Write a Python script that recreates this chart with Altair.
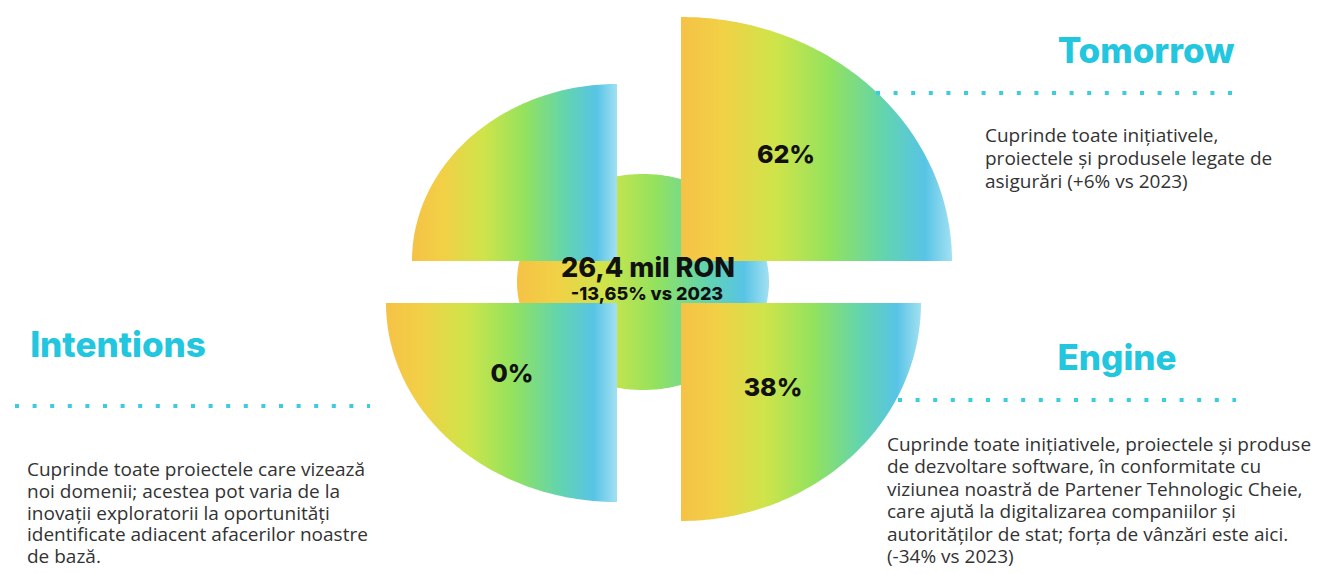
import altair as alt
import pandas as pd

# ---------------- data ----------------
segments = ["Tomorrow", "Engine", "Intentions", "Other"]
share_labels = ["62%", "38%", "0%", ""]
total_value = "26,4 mil RON"
total_change = "-13,65% vs 2023"
heading_names = ["Tomorrow", "Intentions", "Engine"]
desc_tomorrow = ["Cuprinde toate inițiativele,",
                 "proiectele și produsele legate de",
                 "asigurări (+6% vs 2023)"]
desc_intentions = ["Cuprinde toate proiectele care vizează",
                   "noi domenii; acestea pot varia de la",
                   "inovații exploratorii la oportunități",
                   "identificate adiacent afacerilor noastre",
                   "de bază."]
desc_engine = ["Cuprinde toate inițiativele, proiectele și produse",
               "de dezvoltare software, în conformitate cu",
               "viziunea noastră de Partener Tehnologic Cheie,",
               "care ajută la digitalizarea companiilor și",
               "autorităților de stat; forța de vânzări este aici.",
               "(-34% vs 2023)"]

# ---------------- layout (screen pixels) ----------------
W, H = 1308, 558
corner_x = [681, 681, 617, 617]
corner_y = [261, 303, 303, 261]
radius_x = [271, 240, 231, 205]
radius_y = [244, 218, 199, 177]
dir_x = [1, 1, -1, -1]
dir_y = [-1, 1, 1, -1]
label_x = [786, 773, 512, 0]
label_y = [155, 388, 374, 0]
hub = dict(cx=643, cy=282, rx=126, ry=108)

xs = alt.Scale(domain=[8, 8 + W], nice=False, zero=False)
ys = alt.Scale(domain=[8, 8 + H], nice=False, zero=False, reverse=True)

grad = alt.Gradient(
    gradient="linear", x1=0, y1=0.5, x2=1, y2=0.5,
    stops=[
        alt.GradientStop(color="#F5C246", offset=0.0),
        alt.GradientStop(color="#F2D046", offset=0.15),
        alt.GradientStop(color="#CFE44A", offset=0.35),
        alt.GradientStop(color="#93E25E", offset=0.55),
        alt.GradientStop(color="#62D4AE", offset=0.75),
        alt.GradientStop(color="#58C4E6", offset=0.9),
        alt.GradientStop(color="#A2E0F2", offset=1.0),
    ],
)

CYAN = "#22C6DE"
TXT = "#333333"
HEAD_FONT = "Inter"
BODY_FONT = "Open Sans"

# ---------------- hub ellipse ----------------
hub_df = pd.DataFrame([hub])
hub_layer = (
    alt.Chart(hub_df)
    .transform_calculate(t="sequence(0, 181, 1)")
    .transform_flatten(["t"])
    .transform_calculate(
        a="datum.t * PI / 180",
        x="datum.cx + datum.rx * cos(datum.a)",
        y="datum.cy - datum.ry * sin(datum.a)",
        y2="datum.cy + datum.ry * sin(datum.a)",
    )
    .mark_area(color=grad)
    .encode(
        x=alt.X("x:Q", scale=xs, axis=None),
        y=alt.Y("y:Q", scale=ys, axis=None),
        y2="y2:Q",
    )
)

# ---------------- wedges ----------------
wedge_df = pd.DataFrame({
    "segment": segments, "cx": corner_x, "cy": corner_y,
    "rx": radius_x, "ry": radius_y, "sx": dir_x, "sy": dir_y,
})
wedges = (
    alt.Chart(wedge_df)
    .transform_calculate(t="sequence(0, 91, 1)")
    .transform_flatten(["t"])
    .transform_calculate(
        a="datum.t * PI / 180",
        x="datum.cx + datum.sx * datum.rx * cos(datum.a)",
        y="datum.cy + datum.sy * datum.ry * sin(datum.a)",
        y2="datum.cy",
    )
    .mark_area(color=grad)
    .encode(
        x=alt.X("x:Q", scale=xs, axis=None),
        y=alt.Y("y:Q", scale=ys, axis=None),
        y2="y2:Q",
        detail="segment:N",
    )
)

# ---------------- share labels ----------------
share_df = pd.DataFrame({"label": share_labels, "x": label_x, "y": label_y})
share_df = share_df[share_df["label"] != ""]
shares = (
    alt.Chart(share_df)
    .mark_text(font=HEAD_FONT, fontWeight=800, fontSize=25, color="#111111",
               align="center", baseline="middle")
    .encode(x=alt.X("x:Q", scale=xs, axis=None), y=alt.Y("y:Q", scale=ys, axis=None),
            text="label:N")
)

center_df = pd.DataFrame({"label": [total_value, total_change], "x": [648, 647],
                          "y": [269, 295], "size": [27, 18]})
center_text = (
    alt.Chart(center_df)
    .mark_text(font=HEAD_FONT, fontWeight=800, color="#111111",
               align="center", baseline="middle")
    .encode(x=alt.X("x:Q", scale=xs, axis=None), y=alt.Y("y:Q", scale=ys, axis=None),
            text="label:N", size=alt.Size("size:Q", scale=None, legend=None))
)

# ---------------- headings ----------------
head_df = pd.DataFrame({"label": heading_names, "x": [1146, 118, 1117], "y": [52, 346, 359]})
headings = (
    alt.Chart(head_df)
    .mark_text(font=HEAD_FONT, fontWeight=800, fontSize=35, color=CYAN,
               align="center", baseline="middle")
    .encode(x=alt.X("x:Q", scale=xs, axis=None), y=alt.Y("y:Q", scale=ys, axis=None),
            text="label:N")
)

# ---------------- dotted separators ----------------
dots_df = pd.DataFrame({"x": [876, 15, 898], "x2": [1232, 370, 1236], "y": [93, 406, 400]})
dots = (
    alt.Chart(dots_df)
    .mark_rule(color="#3CCBE0", strokeWidth=4, strokeDash=[4, 13.6], strokeCap="butt")
    .encode(x=alt.X("x:Q", scale=xs, axis=None), x2="x2:Q",
            y=alt.Y("y:Q", scale=ys, axis=None))
)

# ---------------- descriptions ----------------
def desc(lines, x, y, lh):
    return (
        alt.Chart(pd.DataFrame({"x": [x], "y": [y]}))
        .mark_text(text=lines, font=BODY_FONT, fontSize=19, color=TXT,
                   align="left", baseline="alphabetic", lineHeight=lh)
        .encode(x=alt.X("x:Q", scale=xs, axis=None), y=alt.Y("y:Q", scale=ys, axis=None))
    )

d1 = desc(desc_tomorrow, 985, 142, 23)
d2 = desc(desc_intentions, 27, 476, 21.8)
d3 = desc(desc_engine, 887, 451, 22.4)

chart = (
    alt.layer(hub_layer, wedges, shares, center_text, headings, dots, d1, d2, d3)
    .properties(width=W, height=H, padding=0, background="white")
    .configure_view(strokeWidth=0, stroke="transparent")
)

chart.save("out.html", embed_options={"renderer": "svg", "actions": False})
